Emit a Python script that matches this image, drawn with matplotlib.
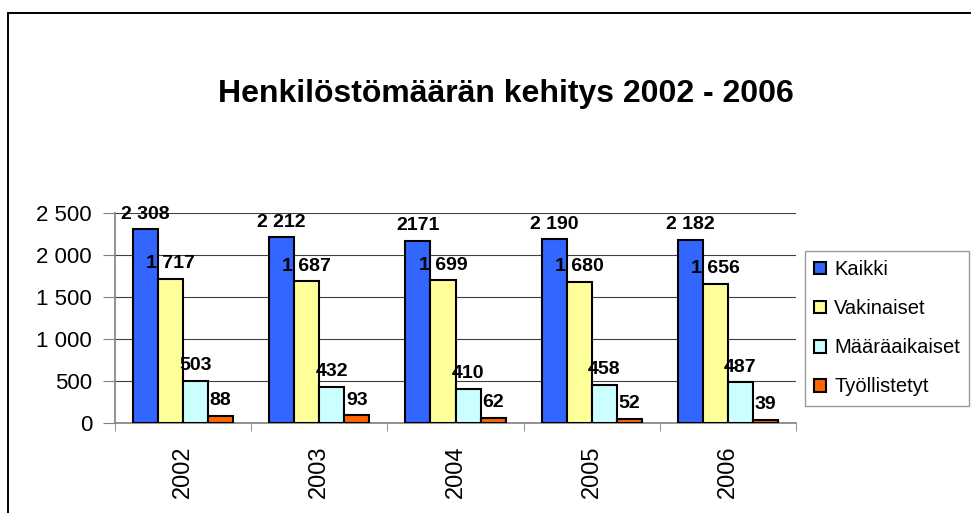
import numpy as np
import matplotlib
matplotlib.use("Agg")
import matplotlib.pyplot as plt
from matplotlib.patches import Rectangle

plt.rcParams['font.family'] = ['Liberation Sans', 'DejaVu Sans']

# data
years = ['2002', '2003', '2004', '2005', '2006']
series = ['Kaikki', 'Vakinaiset', 'Määräaikaiset', 'Työllistetyt']
kaikki = [2308, 2212, 2171, 2190, 2182]
vakinaiset = [1717, 1687, 1699, 1680, 1656]
maaraaikaiset = [503, 432, 410, 458, 487]
tyollistetyt = [88, 93, 62, 52, 39]
# value labels as printed on the chart
kaikki_lbl = ['2 308', '2 212', '2171', '2 190', '2 182']
vakinaiset_lbl = ['1 717', '1 687', '1 699', '1 680', '1 656']
maaraaikaiset_lbl = ['503', '432', '410', '458', '487']
tyollistetyt_lbl = ['88', '93', '62', '52', '39']
yticks = [0, 500, 1000, 1500, 2000, 2500]
ytick_labels = ['0', '500', '1 000', '1 500', '2 000', '2 500']

colors = ['#3366FF', '#FFFF99', '#CCFFFF', '#FF6600']
values = [kaikki, vakinaiset, maaraaikaiset, tyollistetyt]
labels = [kaikki_lbl, vakinaiset_lbl, maaraaikaiset_lbl, tyollistetyt_lbl]

fig = plt.figure(figsize=(9.71, 5.13), dpi=100)
# outer chart frame (cut off at right/bottom)
fig.patches.append(Rectangle((8 / 971, -0.2), 1.2, 1.2 - 13 / 513,
                             transform=fig.transFigure, fill=False,
                             edgecolor='black', linewidth=1.4))

ax = fig.add_axes([115 / 971, 1 - 423 / 513, 681 / 971, 210 / 513])

x = np.arange(len(years))
w = 0.184
for i in range(4):
    pos = x - 1.5 * w + i * w
    ax.bar(pos, values[i], width=w, color=colors[i], edgecolor='black',
           linewidth=1.5, label=series[i], zorder=3)
    for p, v, t in zip(pos, values[i], labels[i]):
        ax.annotate(t, (p, v), xytext=(0, 7.5), textcoords='offset points',
                    ha='center', va='baseline', fontsize=14,
                    fontweight='bold', zorder=4, annotation_clip=False)

ax.set_xlim(-0.5, len(years) - 0.5)
ax.set_ylim(0, 2500)
ax.set_yticks(yticks)
ax.set_yticklabels(ytick_labels, fontsize=16)
ax.set_xticks(x)
ax.set_xticklabels(years, rotation=90, fontsize=17)
ax.tick_params(axis='x', length=0, pad=16)
ax.set_xticks(np.arange(len(years) + 1) - 0.5, minor=True)
ax.tick_params(axis='x', which='minor', length=6, color='#808080')
ax.tick_params(axis='y', length=8.5, color='#808080', pad=8)
ax.yaxis.grid(True, color='#404040', linewidth=0.8, zorder=0)
for s in ['top', 'right']:
    ax.spines[s].set_visible(False)
for s in ['left', 'bottom']:
    ax.spines[s].set_color('#808080')
    ax.spines[s].set_linewidth(1.2)

fig.text(506 / 971, 1 - 102 / 513, 'Henkilöstömäärän kehitys 2002 - 2006',
         ha='center', va='baseline', fontsize=23, fontweight='bold')

leg = fig.legend(loc='upper left', bbox_to_anchor=(805 / 971, 1 - 251 / 513),
                 fontsize=14.5, frameon=True, fancybox=False,
                 handlelength=0.6, handleheight=0.6, handletextpad=0.4,
                 labelspacing=1.0, borderpad=0.45, borderaxespad=0)
leg.get_frame().set_edgecolor('#808080')
leg.get_frame().set_linewidth(1.0)

fig.savefig('out.png', dpi=100)
